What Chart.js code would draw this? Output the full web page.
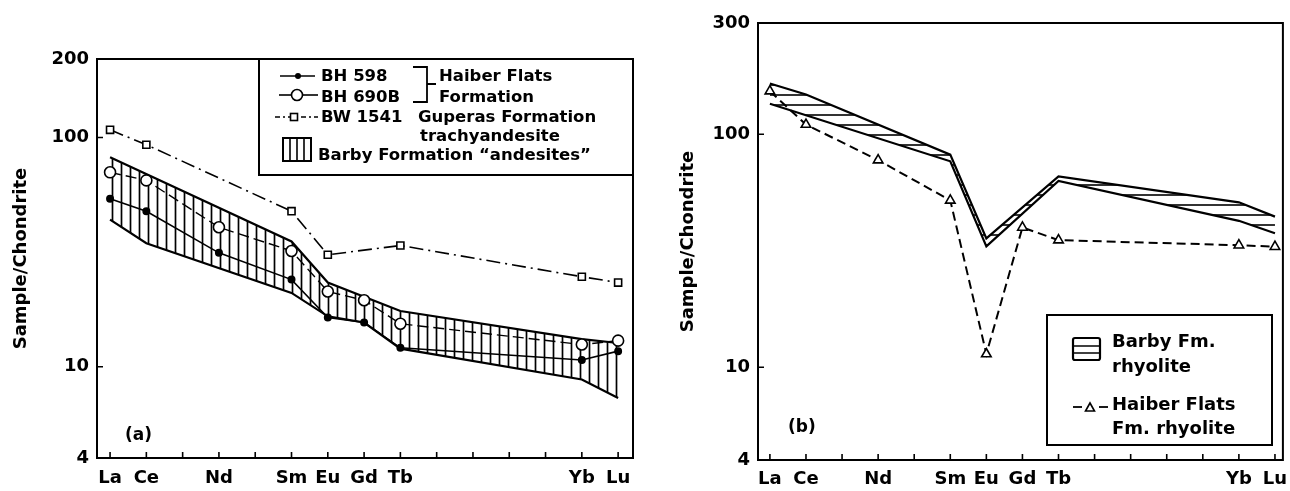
<!DOCTYPE html>
<html><head><meta charset="utf-8">
<script src="https://cdn.jsdelivr.net/npm/chart.js@4/dist/chart.umd.min.js"></script>
<style>
html,body{margin:0;padding:0;background:#fff;width:1290px;height:491px;overflow:hidden}
#wa{position:absolute;left:0;top:0;width:645px;height:491px}
#wb{position:absolute;left:650px;top:0;width:640px;height:491px}
#ov{position:absolute;left:0;top:0;pointer-events:none}
</style></head><body>
<div id="wa"><canvas id="ca" width="645" height="491"></canvas></div>
<div id="wb"><canvas id="cb" width="640" height="491"></canvas></div>
<svg id="ov" width="1290" height="491" font-family="DejaVu Sans" font-weight="bold" fill="#000">
  <!-- legend (a) -->
  <rect x="259" y="59" width="374" height="116" fill="#fff" stroke="#000" stroke-width="2"/>
  <line x1="280" y1="76" x2="315" y2="76" stroke="#000" stroke-width="1.6"/>
  <circle cx="298" cy="76" r="3" fill="#000"/>
  <line x1="279" y1="95" x2="291" y2="95" stroke="#000" stroke-width="1.6"/>
  <line x1="303" y1="95" x2="318" y2="95" stroke="#000" stroke-width="1.6"/>
  <circle cx="297" cy="95" r="5.5" fill="#fff" stroke="#000" stroke-width="1.6"/>
  <line x1="275" y1="117" x2="318" y2="117" stroke="#000" stroke-width="1.6" stroke-dasharray="5 3 2 3"/>
  <rect x="290.5" y="113.5" width="7" height="7" fill="#fff" stroke="#000" stroke-width="1.6"/>
  <rect x="283" y="138" width="28" height="23" fill="#fff" stroke="#000" stroke-width="2"/>
  <line x1="290" y1="138" x2="290" y2="161" stroke="#000" stroke-width="1.6"/>
  <line x1="297" y1="138" x2="297" y2="161" stroke="#000" stroke-width="1.6"/>
  <line x1="304" y1="138" x2="304" y2="161" stroke="#000" stroke-width="1.6"/>
  <path d="M413 67 H427 V102 H413 M427 84 H436" fill="none" stroke="#000" stroke-width="1.8"/>
  <g font-size="16.5">
    <text x="321" y="81">BH 598</text>
    <text x="321" y="102">BH 690B</text>
    <text x="321" y="122">BW 1541</text>
    <text x="439" y="81">Haiber Flats</text>
    <text x="439" y="102">Formation</text>
    <text x="418" y="122">Guperas Formation</text>
    <text x="420" y="141">trachyandesite</text>
    <text x="318" y="160">Barby Formation “andesites”</text>
  </g>
  <text x="125" y="440" font-size="17">(a)</text>
  <!-- legend (b) -->
  <rect x="1047" y="315" width="225" height="130" fill="#fff" stroke="#000" stroke-width="2"/>
  <rect x="1073" y="338" width="27" height="22" rx="2" fill="#fff" stroke="#000" stroke-width="2.2"/>
  <line x1="1073" y1="346" x2="1100" y2="346" stroke="#000" stroke-width="1.5"/>
  <line x1="1073" y1="353" x2="1100" y2="353" stroke="#000" stroke-width="1.5"/>
  <line x1="1073" y1="407" x2="1082" y2="407" stroke="#000" stroke-width="1.8"/>
  <line x1="1099" y1="407" x2="1108" y2="407" stroke="#000" stroke-width="1.8"/>
  <polygon points="1085.5,411 1094.5,411 1090,403" fill="#fff" stroke="#000" stroke-width="1.6"/>
  <g font-size="18">
    <text x="1112" y="347">Barby Fm.</text>
    <text x="1112" y="372">rhyolite</text>
    <text x="1112" y="410">Haiber Flats</text>
    <text x="1112" y="434">Fm. rhyolite</text>
  </g>
  <text x="788" y="432" font-size="17">(b)</text>
</svg>
<script>
// ---------- shared categories ----------
const elements = ['La','Ce','Pr','Nd','Pm','Sm','Eu','Gd','Tb','Dy','Ho','Er','Tm','Yb','Lu'];
const xTickLabels = ['La','Ce','','Nd','','Sm','Eu','Gd','Tb','','','','','Yb','Lu'];

// ---------- panel (a) ----------
const yTicksA = [4, 10, 100, 200];   // top label sits at the top of the frame
const bh598  = [54, 47.7, null, 31.4, null, 24, 16.4, 15.6, 12.1, null, null, null, null, 10.7, 11.7];
const bh690b = [70.5, 65, null, 40.6, null, 32, 21.3, 19.5, 15.4, null, null, null, null, 12.5, 13.0];
const bw1541 = [108, 93, null, null, null, 47.7, 30.8, null, 33.8, null, null, null, null, 24.7, 23.3];
const andesiteUpper = [82, null, null, null, null, 35.2, 23.3, null, 17.5, null, null, null, null, 13.2, 12.7];
const andesiteLower = [43.8, 34.6, null, null, null, 21, 16.6, 15.6, 12.0, null, null, null, null, 8.8, 7.3];

// ---------- panel (b) ----------
const yTicksB = [4, 10, 100, 300];
const haiberRhyolite = [153, 110, null, 77.4, null, 52, 11.4, 39.8, 35.1, null, null, null, null, 33.4, 32.9];
const rhyoliteUpper  = [165, 148, null, null, null, 81.7, 35.7, null, 65.9, null, null, null, null, 51, 44.3];
const rhyoliteLower  = [135, null, null, null, null, 76.5, 33, null, 63, null, null, null, null, 42.5, 37.6];

function pts(arr){ return arr.map((v,i)=> v==null ? null : {x:i, y:v}).filter(p=>p); }

function hatch(ctx, vertical, step, w){
  const c = document.createElement('canvas');
  c.width = vertical ? step : 8; c.height = vertical ? 8 : step;
  const g = c.getContext('2d');
  g.strokeStyle = '#000'; g.lineWidth = w; g.beginPath();
  if (vertical){ g.moveTo(step/2,0); g.lineTo(step/2,8); }
  else { g.moveTo(0,step/2); g.lineTo(8,step/2); }
  g.stroke();
  return ctx.createPattern(c, 'repeat');
}

Chart.defaults.font.family = 'DejaVu Sans';
Chart.defaults.font.weight = 'bold';
Chart.defaults.font.size = 18;
Chart.defaults.color = '#000';

const framePlugin = {
  id: 'frame',
  afterDraw(chart, args, opts){
    const {ctx, chartArea:a} = chart;
    const x = chart.scales.x, y = chart.scales.y;
    ctx.save();
    ctx.strokeStyle = '#000';
    ctx.lineWidth = 2;
    ctx.strokeRect(a.left, a.top, a.right - a.left, a.bottom - a.top);
    ctx.lineWidth = 1.6;
    ctx.beginPath();
    x.ticks.forEach(t => { const px = x.getPixelForValue(t.value); ctx.moveTo(px, a.bottom); ctx.lineTo(px, a.bottom - 6); });
    (opts.yMarks || []).forEach(v => { const py = y.getPixelForValue(v); ctx.moveTo(a.left, py); ctx.lineTo(a.left + 6, py); });
    ctx.stroke();
    ctx.restore();
  }
};

function lineDs(data, extra){
  return Object.assign({data: pts(data), borderColor:'#000', borderWidth:1.6, tension:0,
    pointRadius:0, pointBorderColor:'#000', pointBackgroundColor:'#fff', pointBorderWidth:1.6, fill:false}, extra);
}

function makeOptions(p){
  return {
    responsive:false, animation:false, devicePixelRatio:1,
    layout:{padding:p.pad},
    plugins:{legend:{display:false}, tooltip:{enabled:false}, frame:{yMarks:[10,100]}},
    scales:{
      x:{type:'linear', min:p.xmin, max:p.xmax,
         grid:{display:false, drawTicks:false}, border:{display:false},
         afterBuildTicks:s=>{ s.ticks = elements.map((e,i)=>({value:i})); },
         afterFit:s=>{ s.height = p.xh; s.paddingLeft = 0; s.paddingRight = 0; },
         ticks:{autoSkip:false, maxRotation:0, minRotation:0, padding:p.xpad, callback:(v)=> xTickLabels[v] ?? ''}},
      y:{type:'logarithmic', min:4, max:p.ymax,
         grid:{display:false, drawTicks:false}, border:{display:false},
         afterBuildTicks:s=>{ s.ticks = p.yt.map((v,i)=>({value: i===p.yt.length-1 ? p.ymax : v})); },
         afterFit:s=>{ s.width = p.yw; },
         ticks:{padding:8, autoSkip:false, callback:(v,i)=> String(p.yt[i])},
         title:{display:true, text:'Sample/Chondrite', padding:{top:11, bottom:0}, font:{size:18, weight:'bold'}}}
    }
  };
}

// ----- chart (a)
const ctxA = document.getElementById('ca').getContext('2d');
new Chart(ctxA, {
  type:'line',
  data:{datasets:[
    lineDs(bh598,  {pointRadius:3.2, pointBackgroundColor:'#000'}),
    lineDs(bh690b, {borderDash:[11,5], borderWidth:1.4, pointRadius:5.5}),
    lineDs(bw1541, {borderDash:[14,5,2,5], pointStyle:'rect', pointRadius:5}),
    lineDs(andesiteUpper, {borderWidth:2.2, fill:'+1', backgroundColor:hatch(ctxA, true, 9, 1.7)}),
    lineDs(andesiteLower, {borderWidth:2.2})
  ]},
  options: makeOptions({pad:{left:0, top:59, right:12, bottom:0}, xmin:-0.36, xmax:14.41, xh:33, xpad:10, ymax:220, yt:yTicksA, yw:97}),
  plugins:[framePlugin]
});

// ----- chart (b)
const ctxB = document.getElementById('cb').getContext('2d');
new Chart(ctxB, {
  type:'line',
  data:{datasets:[
    lineDs(haiberRhyolite, {borderDash:[9,5], borderWidth:2, pointStyle:'triangle', pointRadius:5.5}),
    lineDs(rhyoliteUpper, {borderWidth:2.2, fill:'+1', backgroundColor:hatch(ctxB, false, 10, 1.6)}),
    lineDs(rhyoliteLower, {borderWidth:2.2})
  ]},
  options: makeOptions({pad:{left:17, top:23, right:5, bottom:0}, xmin:-0.33, xmax:14.22, xh:31, xpad:9, ymax:300, yt:yTicksB, yw:91}),
  plugins:[framePlugin]
});
</script>
</body></html>
